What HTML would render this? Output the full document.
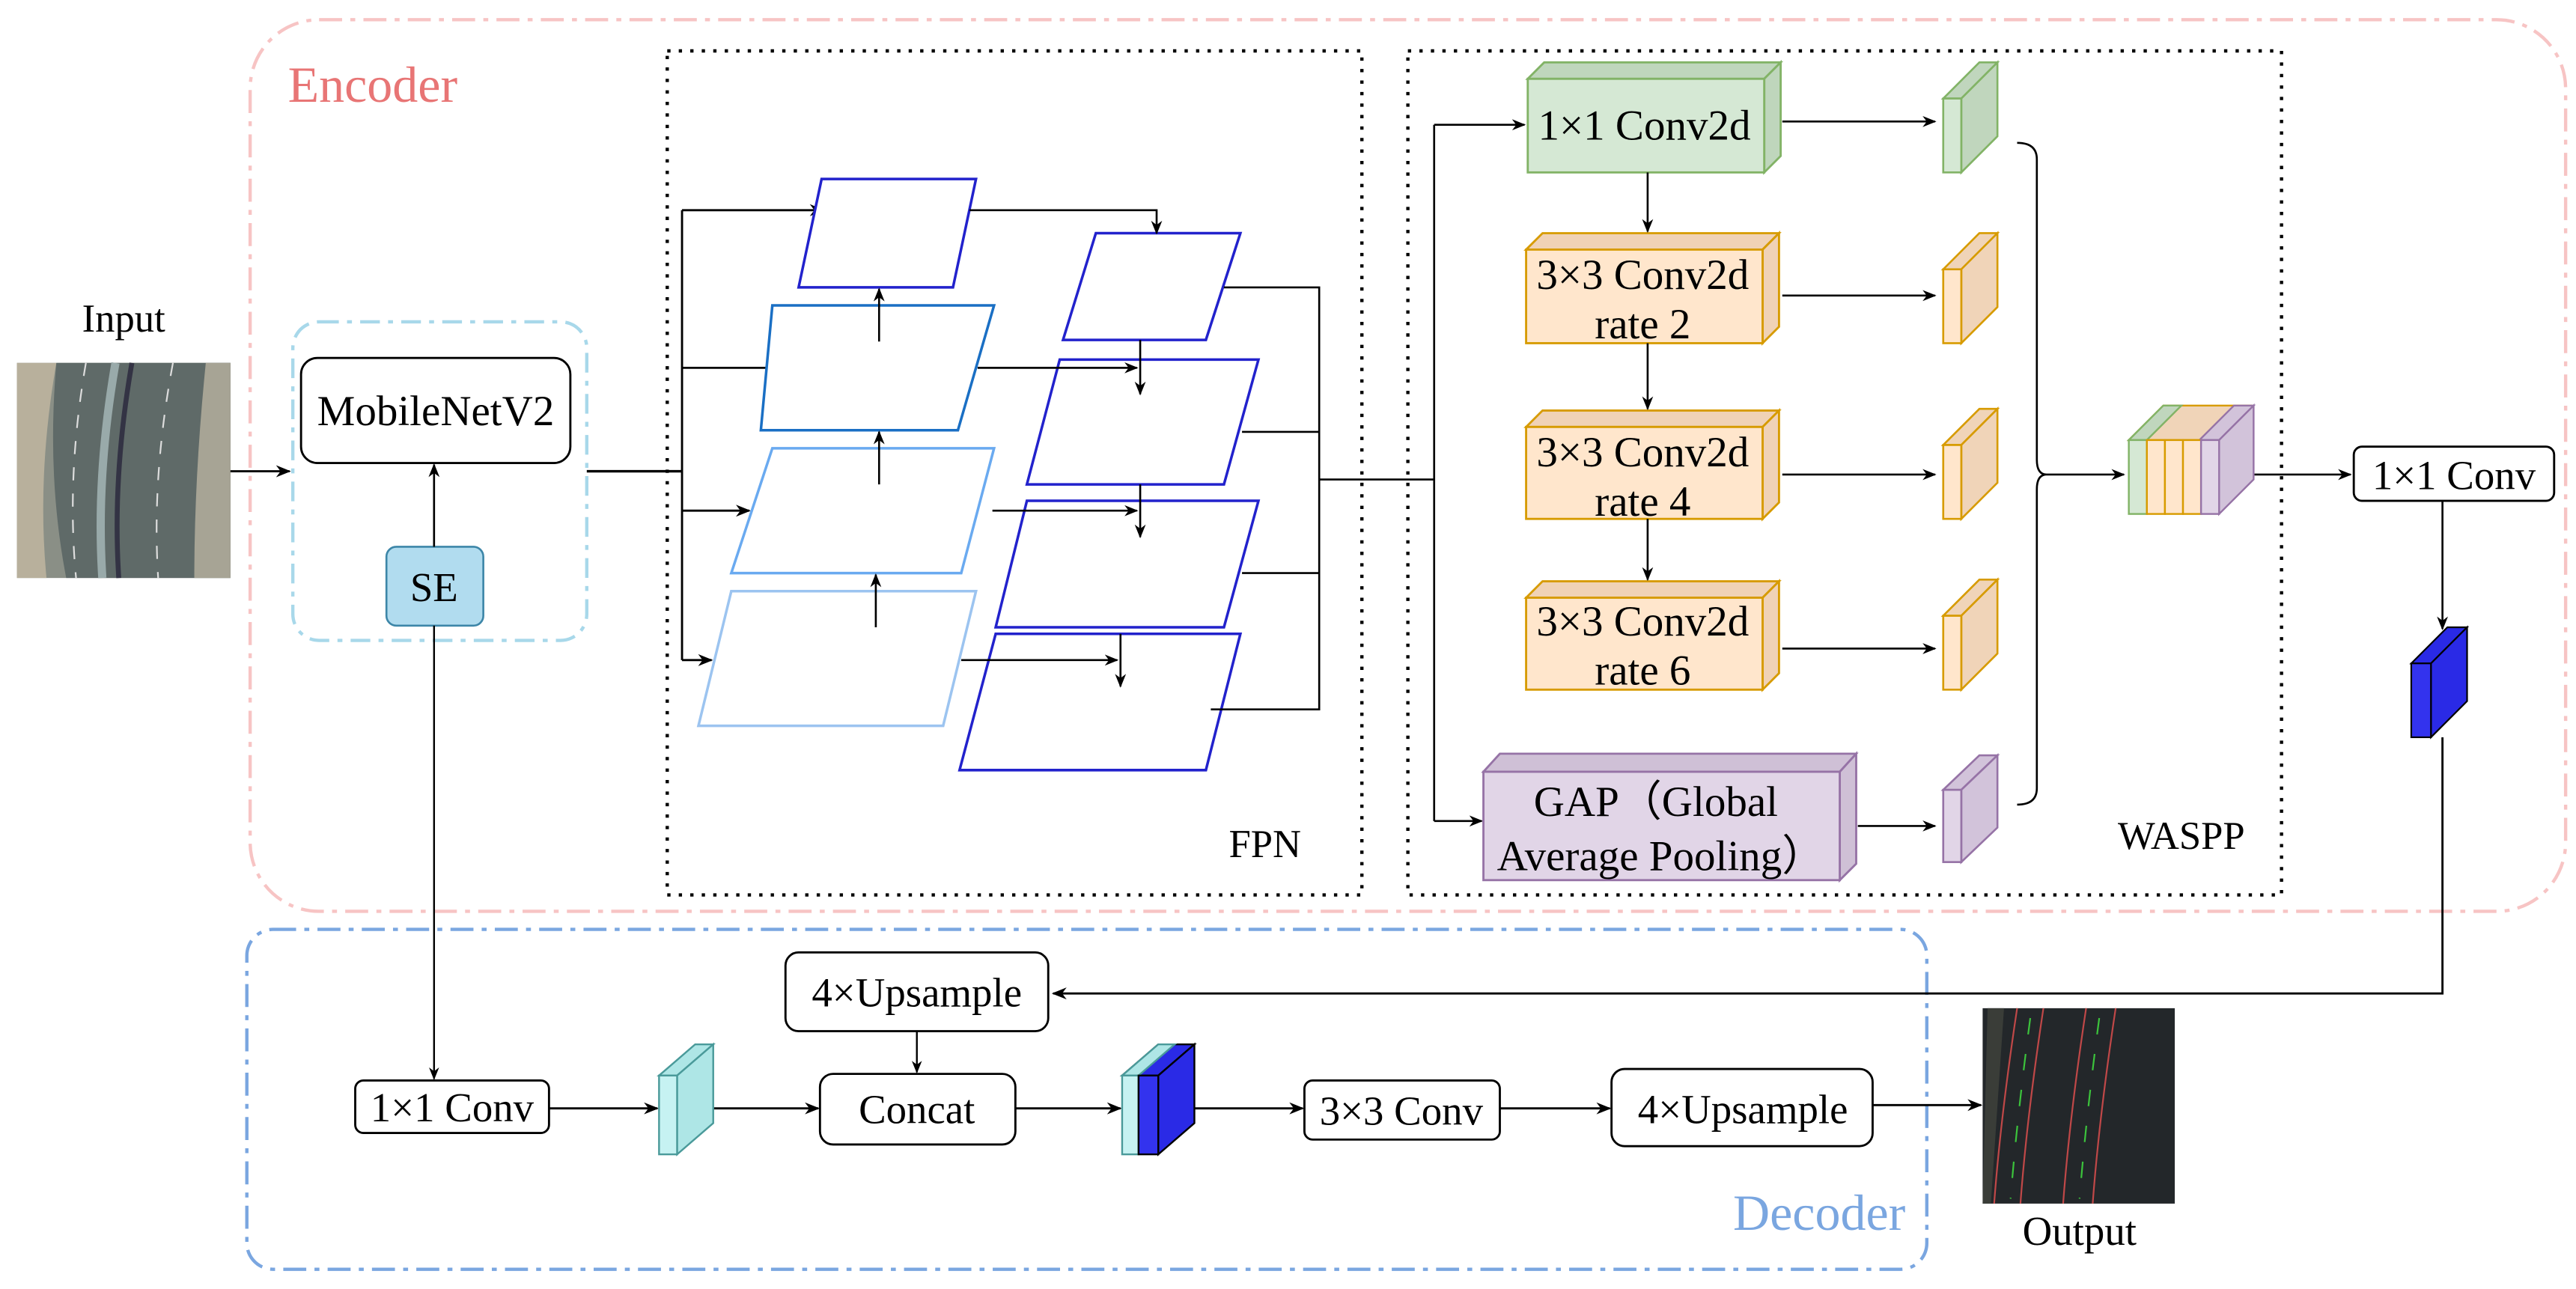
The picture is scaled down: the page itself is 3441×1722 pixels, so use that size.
<!DOCTYPE html>
<html><head><meta charset="utf-8"><style>html,body{margin:0;padding:0;background:#fff}svg{display:block}</style></head><body>
<svg width="3441" height="1722" viewBox="0 0 1568 785" xmlns="http://www.w3.org/2000/svg" font-family="'Liberation Serif', serif" style="font-family:'Liberation Serif',serif">
<defs>
<marker id="a" viewBox="0 0 10 10" refX="9" refY="5" markerWidth="7" markerHeight="7" orient="auto"><path d="M0,1 L10,5 L0,9 L3,5z" fill="#000"/></marker>
</defs>
<!-- Encoder -->
<rect x="152" y="12" width="1410" height="543" rx="42" fill="none" stroke="#f7c4c4" stroke-width="2" stroke-dasharray="14,5,3,5"/>
<text x="175" y="62" font-size="31" fill="#e87575">Encoder</text>
<!-- Decoder -->
<rect x="150" y="566" width="1023" height="207" rx="16" fill="none" stroke="#7aa6e0" stroke-width="2" stroke-dasharray="14,5,3,5"/>
<text x="1160" y="749" font-size="31" fill="#7aa6e0" text-anchor="end">Decoder</text>
<!-- Input -->
<text x="75" y="202" font-size="24" text-anchor="middle">Input</text>
<rect x="10" y="221" width="130" height="131" fill="#8a8f86"/>
<path d="M10,221 L34,221 Q22,290 28,352 L10,352z" fill="#b8b09c"/>
<path d="M34,221 L140,221 L140,352 L40,352 Q28,290 34,221z" fill="#5f6a68"/>
<path d="M70,221 Q58,290 62,352" stroke="#9aa" stroke-width="5" fill="none"/>
<path d="M80,221 Q68,290 72,352" stroke="#334" stroke-width="3" fill="none"/>
<path d="M52,221 Q40,290 46,352" stroke="#ddd" stroke-width="1" stroke-dasharray="8,8" fill="none"/>
<path d="M105,221 Q92,290 96,352" stroke="#ddd" stroke-width="1" stroke-dasharray="8,8" fill="none"/>
<path d="M125,221 Q118,290 118,352 L140,352 L140,221z" fill="#a7a495"/>
<line x1="140" y1="287" x2="176" y2="287" stroke="#000" stroke-width="1.3" marker-end="url(#a)"/>
<!-- backbone -->
<rect x="178" y="196" width="179" height="194" rx="16" fill="none" stroke="#a8d8ea" stroke-width="2" stroke-dasharray="12,5,3,5"/>
<rect x="183" y="218" width="164" height="64" rx="10" fill="#fff" stroke="#000" stroke-width="1.3"/>
<text x="265" y="259" font-size="26" text-anchor="middle">MobileNetV2</text>
<rect x="235" y="333" width="59" height="48" rx="6" fill="#b1dcef" stroke="#3d86a8" stroke-width="1.2"/>
<text x="264" y="366" font-size="25" text-anchor="middle">SE</text>
<line x1="264" y1="333" x2="264" y2="283" stroke="#000" stroke-width="1.2" marker-end="url(#a)"/>
<!-- FPN -->
<rect x="406" y="31" width="423" height="514" fill="none" stroke="#000" stroke-width="2" stroke-dasharray="2,5"/>
<text x="770" y="522" font-size="24" text-anchor="middle">FPN</text>
<polyline points="357,287 415,287" stroke="#000" stroke-width="1.5" fill="none"/>
<line x1="415" y1="128" x2="415" y2="402" stroke="#000" stroke-width="1.3"/>
<g stroke="#000" stroke-width="1.3" fill="none">
<line x1="415" y1="128" x2="501" y2="128" marker-end="url(#a)"/>
<line x1="415" y1="224" x2="476" y2="224" marker-end="url(#a)"/>
<line x1="415" y1="311" x2="456" y2="311" marker-end="url(#a)"/>
<line x1="415" y1="402" x2="433" y2="402" marker-end="url(#a)"/>
</g>
<g fill="#fff" stroke-width="1.6">
<polygon points="500,109 594,109 580,175 486,175" stroke="#2222cc"/>
<polygon points="470,186 605,186 583,262 463,262" stroke="#1a6fc4"/>
<polygon points="470,273 605,273 585,349 445,349" stroke="#6aaaf0"/>
<polygon points="445,360 594,360 574,442 425,442" stroke="#9cc4f0"/>
<polygon points="667,142 755,142 734,207 647,207" stroke="#2222cc"/>
<polygon points="645,219 766,219 745,295 625,295" stroke="#2222cc"/>
<polygon points="625,305 766,305 745,382 606,382" stroke="#2222cc"/>
<polygon points="606,386 755,386 734,469 584,469" stroke="#2222cc"/>
</g>
<g stroke="#000" stroke-width="1.2" fill="none">
<line x1="535" y1="208" x2="535" y2="176" marker-end="url(#a)"/>
<line x1="535" y1="295" x2="535" y2="263" marker-end="url(#a)"/>
<line x1="533" y1="382" x2="533" y2="350" marker-end="url(#a)"/>
<polyline points="590,128 704,128 704,142" marker-end="url(#a)"/>
<line x1="595" y1="224" x2="692" y2="224" marker-end="url(#a)"/>
<line x1="694" y1="207" x2="694" y2="240" marker-end="url(#a)"/>
<line x1="604" y1="311" x2="692" y2="311" marker-end="url(#a)"/>
<line x1="694" y1="295" x2="694" y2="327" marker-end="url(#a)"/>
<line x1="585" y1="402" x2="680" y2="402" marker-end="url(#a)"/>
<line x1="682" y1="386" x2="682" y2="418" marker-end="url(#a)"/>
<polyline points="745,175 803,175 803,432 737,432"/>
<line x1="756" y1="263" x2="803" y2="263"/>
<line x1="756" y1="349" x2="803" y2="349"/>
<polyline points="803,292 873,292"/>
<line x1="873" y1="76" x2="873" y2="500"/>
<line x1="873" y1="76" x2="928" y2="76" marker-end="url(#a)"/>
<line x1="873" y1="500" x2="902" y2="500" marker-end="url(#a)"/>
</g>
<!-- WASPP -->
<rect x="857" y="31" width="532" height="514" fill="none" stroke="#000" stroke-width="2" stroke-dasharray="2,5"/>
<text x="1328" y="517" font-size="24" text-anchor="middle">WASPP</text>
<!-- 3D boxes -->
<g stroke-width="1.3">
<g stroke="#82b366"><polygon points="930,48 940,38 1084,38 1074,48" fill="#bfd6bc"/><polygon points="1074,48 1084,38 1084,95 1074,105" fill="#bfd6bc"/><rect x="930" y="48" width="144" height="57" fill="#d5e8d4"/></g>
<g stroke="#d79b00"><polygon points="929,152 939,142 1083,142 1073,152" fill="#f0d2b6"/><polygon points="1073,152 1083,142 1083,199 1073,209" fill="#f0d2b6"/><rect x="929" y="152" width="144" height="57" fill="#ffe6cc"/></g>
<g stroke="#d79b00"><polygon points="929,260 939,250 1083,250 1073,260" fill="#f0d2b6"/><polygon points="1073,260 1083,250 1083,306 1073,316" fill="#f0d2b6"/><rect x="929" y="260" width="144" height="56" fill="#ffe6cc"/></g>
<g stroke="#d79b00"><polygon points="929,364 939,354 1083,354 1073,364" fill="#f0d2b6"/><polygon points="1073,364 1083,354 1083,410 1073,420" fill="#f0d2b6"/><rect x="929" y="364" width="144" height="56" fill="#ffe6cc"/></g>
<g stroke="#9673a6"><polygon points="903,470 913,459 1130,459 1120,470" fill="#cfc0d6"/><polygon points="1120,470 1130,459 1130,526 1120,536" fill="#cfc0d6"/><rect x="903" y="470" width="217" height="66" fill="#e1d5e7"/></g>
</g>
<g font-size="26" text-anchor="middle">
<text x="1001" y="85">1×1 Conv2d</text>
<text x="1000" y="176">3×3 Conv2d</text><text x="1000" y="206">rate 2</text>
<text x="1000" y="284">3×3 Conv2d</text><text x="1000" y="314">rate 4</text>
<text x="1000" y="387">3×3 Conv2d</text><text x="1000" y="417">rate 6</text>
<text x="1008" y="497">GAP（Global</text><text x="1011" y="530">Average Pooling）</text>
</g>
<g stroke="#000" stroke-width="1.2" fill="none">
<line x1="1003" y1="105" x2="1003" y2="141" marker-end="url(#a)"/>
<line x1="1003" y1="209" x2="1003" y2="249" marker-end="url(#a)"/>
<line x1="1003" y1="316" x2="1003" y2="353" marker-end="url(#a)"/>
<line x1="1085" y1="74" x2="1178" y2="74" marker-end="url(#a)"/>
<line x1="1085" y1="180" x2="1178" y2="180" marker-end="url(#a)"/>
<line x1="1085" y1="289" x2="1178" y2="289" marker-end="url(#a)"/>
<line x1="1085" y1="395" x2="1178" y2="395" marker-end="url(#a)"/>
<line x1="1131" y1="503" x2="1178" y2="503" marker-end="url(#a)"/>
<path d="M1228,87 Q1240,87 1240,97 L1240,280 Q1240,289 1246,289 Q1240,289 1240,298 L1240,480 Q1240,490 1228,490"/>
<line x1="1246" y1="289" x2="1293" y2="289" marker-end="url(#a)"/>
<line x1="1372" y1="289" x2="1431" y2="289" marker-end="url(#a)"/>
</g>
<!-- small cubes -->
<g stroke-width="1.2">
<g stroke="#82b366" fill="#c0d6bd"><polygon points="1183,60 1205,38 1216,38 1194,60"/><polygon points="1194,60 1216,38 1216,83 1194,105"/><rect x="1183" y="60" width="11" height="45" fill="#d5e8d4"/></g>
<g stroke="#d79b00" fill="#f0d4b8"><polygon points="1183,164 1205,142 1216,142 1194,164"/><polygon points="1194,164 1216,142 1216,187 1194,209"/><rect x="1183" y="164" width="11" height="45" fill="#ffe6cc"/></g>
<g stroke="#d79b00" fill="#f0d4b8"><polygon points="1183,271 1205,249 1216,249 1194,271"/><polygon points="1194,271 1216,249 1216,294 1194,316"/><rect x="1183" y="271" width="11" height="45" fill="#ffe6cc"/></g>
<g stroke="#d79b00" fill="#f0d4b8"><polygon points="1183,375 1205,353 1216,353 1194,375"/><polygon points="1194,375 1216,353 1216,398 1194,420"/><rect x="1183" y="375" width="11" height="45" fill="#ffe6cc"/></g>
<g stroke="#9673a6" fill="#d2c3da"><polygon points="1183,481 1205,460 1216,460 1194,481"/><polygon points="1194,481 1216,460 1216,504 1194,525"/><rect x="1183" y="481" width="11" height="44" fill="#e1d5e7"/></g>
</g>
<!-- concat stack -->
<g stroke-width="1.1">
<polygon points="1296,268 1317,247 1370,247 1349,268" fill="#f0d4b8" stroke="#d79b00"/>
<polygon points="1296,268 1317,247 1328,247 1307,268" fill="#c0d6bd" stroke="#82b366"/>
<polygon points="1339,268 1360,247 1372,247 1351,268" fill="#d2c3da" stroke="#9673a6"/>
<polygon points="1351,268 1372,247 1372,292 1351,313" fill="#d2c3da" stroke="#9673a6"/>
<rect x="1296" y="268" width="11" height="45" fill="#d5e8d4" stroke="#82b366"/>
<rect x="1307" y="268" width="11" height="45" fill="#ffe6cc" stroke="#d79b00"/>
<rect x="1318" y="268" width="11" height="45" fill="#ffe6cc" stroke="#d79b00"/>
<rect x="1329" y="268" width="11" height="45" fill="#ffe6cc" stroke="#d79b00"/>
<rect x="1340" y="268" width="11" height="45" fill="#e1d5e7" stroke="#9673a6"/>
</g>
<rect x="1433" y="272" width="122" height="33" rx="5" fill="#fff" stroke="#000" stroke-width="1.3"/>
<text x="1494" y="298" font-size="25" text-anchor="middle">1×1 Conv</text>
<line x1="1487" y1="305" x2="1487" y2="383" stroke="#000" stroke-width="1.2" marker-end="url(#a)"/>
<g stroke="#000" stroke-width="1"><polygon points="1468,404 1490,382 1502,382 1480,404" fill="#2a2ae6"/><polygon points="1480,404 1502,382 1502,427 1480,449" fill="#2a2ae6"/><rect x="1468" y="404" width="12" height="45" fill="#3333ee"/></g>
<polyline points="1487,449 1487,605 641,605" stroke="#000" stroke-width="1.3" fill="none" marker-end="url(#a)"/>
<!-- Decoder contents -->
<g fill="#fff" stroke="#000" stroke-width="1.3">
<rect x="478" y="580" width="160" height="48" rx="8"/>
<rect x="216" y="658" width="118" height="32" rx="5"/>
<rect x="499" y="654" width="119" height="43" rx="8"/>
<rect x="794" y="658" width="119" height="36" rx="5"/>
<rect x="981" y="651" width="159" height="47" rx="8"/>
</g>
<g font-size="25" text-anchor="middle">
<text x="558" y="613">4×Upsample</text>
<text x="275" y="683">1×1 Conv</text>
<text x="558" y="684">Concat</text>
<text x="853" y="685">3×3 Conv</text>
<text x="1061" y="684">4×Upsample</text>
</g>
<g stroke="#000" stroke-width="1.3" fill="none">
<line x1="264" y1="381" x2="264" y2="657" stroke-width="1.1" marker-end="url(#a)"/>
<line x1="558" y1="628" x2="558" y2="653" stroke-width="1.1" marker-end="url(#a)"/>
<line x1="334" y1="675" x2="400" y2="675" marker-end="url(#a)"/>
<line x1="434" y1="675" x2="498" y2="675" marker-end="url(#a)"/>
<line x1="618" y1="675" x2="682" y2="675" marker-end="url(#a)"/>
<line x1="727" y1="675" x2="793" y2="675" marker-end="url(#a)"/>
<line x1="913" y1="675" x2="980" y2="675" marker-end="url(#a)"/>
<line x1="1140" y1="673" x2="1206" y2="673" marker-end="url(#a)"/>
</g>
<g stroke-width="1.1">
<polygon points="401,655 423,636 434,636 412,655" fill="#aee6e6" stroke="#4a9a9a"/>
<polygon points="412,655 434,636 434,684 412,703" fill="#aee6e6" stroke="#4a9a9a"/>
<rect x="401" y="655" width="11" height="48" fill="#c6f2f2" stroke="#4a9a9a"/>
<polygon points="683,655 705,636 727,636 705,655" fill="#2a2ae6" stroke="#000"/>
<polygon points="683,655 705,636 715,636 693,655" fill="#aee6e6" stroke="#4a9a9a"/>
<polygon points="705,655 727,636 727,684 705,703" fill="#2a2ae6" stroke="#000"/>
<rect x="683" y="655" width="10" height="48" fill="#c6f2f2" stroke="#4a9a9a"/>
<rect x="693" y="655" width="12" height="48" fill="#3333ee" stroke="#000"/>
</g>
<!-- Output -->
<rect x="1207" y="614" width="117" height="119" fill="#23272a"/>
<path d="M1210,614 L1220,614 L1212,733 L1207,733z" fill="#3a3d38"/>
<g fill="none" stroke-width="1">
<path d="M1228,614 Q1218,680 1214,733" stroke="#c04848"/>
<path d="M1244,614 Q1234,680 1230,733" stroke="#c04848"/>
<path d="M1270,614 Q1260,680 1256,733" stroke="#c04848"/>
<path d="M1288,614 Q1278,680 1274,733" stroke="#c04848"/>
<path d="M1236,620 Q1228,680 1224,730" stroke="#3cc43c" stroke-dasharray="10,12"/>
<path d="M1278,620 Q1270,680 1266,730" stroke="#3cc43c" stroke-dasharray="10,12"/>
</g>
<text x="1266" y="758" font-size="25" text-anchor="middle">Output</text>
</svg>
</body></html>
